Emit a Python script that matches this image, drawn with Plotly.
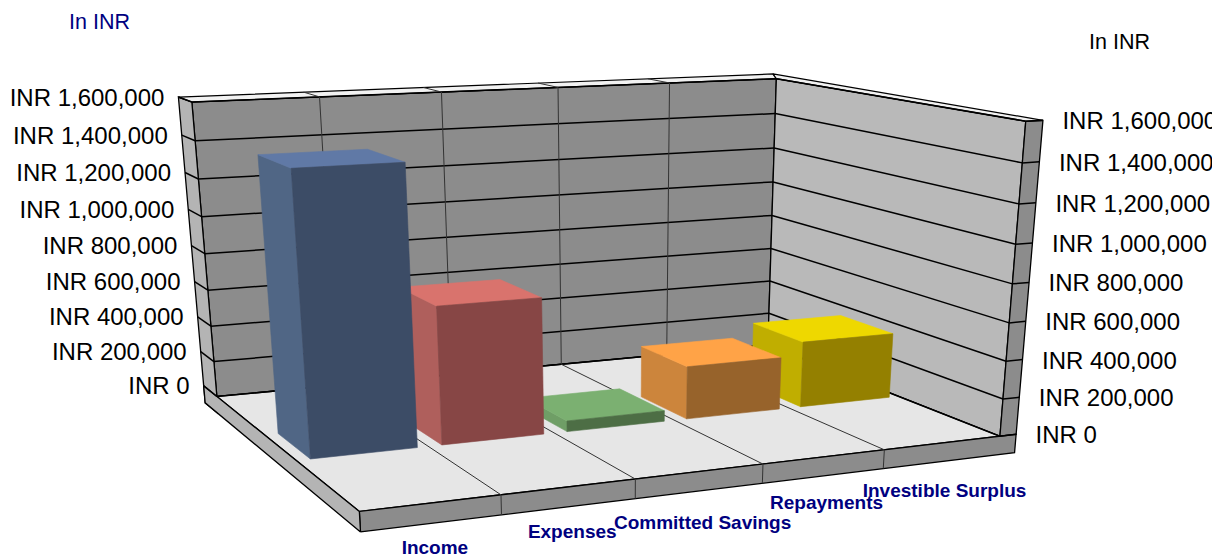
import numpy as np
import plotly.graph_objects as go

# ---- data -----------------------------------------------------------------
categories = ["Income", "Expenses", "Committed Savings", "Repayments", "Investible Surplus"]
values = [1430000, 720000, 58000, 287000, 362000]
tick_values = [0, 200000, 400000, 600000, 800000, 1000000, 1200000, 1400000, 1600000]
tick_labels = ["INR 0", "INR 200,000", "INR 400,000", "INR 600,000", "INR 800,000",
               "INR 1,000,000", "INR 1,200,000", "INR 1,400,000", "INR 1,600,000"]

# ---- style ----------------------------------------------------------------
bar_top = ["#6079a6", "#d9736d", "#7bb071", "#ffa347", "#eed800"]
bar_left = ["#506685", "#af5f5c", "#6f9e66", "#cc853c", "#c0ae00"]
bar_front = ["#3c4c66", "#874645", "#4d6e45", "#97632b", "#948000"]
category_dy = [26, 27, 33, 28, 31]
NAVY = "#000080"
FONT = "Liberation Sans, Arial, sans-serif"

# Excel-style perspective: x = category slot, y = depth, z = value / 1e6
CAMERA = np.array([
    [155.21569521, -94.89640839, -27.67090882, 359.35591566],
    [-3.2177339, -27.95917046, -229.02320527, 511.45014863],
    [0.02710255, 0.21948836, -0.04483668, 1.0],
])
N = len(categories)
ZMAX = max(tick_values) / 1e6
WALL_X, WALL_Y, SLAB = N + 0.144, 1.115, -0.1
TOP_CORNER_X = N + 0.194
BAR_X0, BAR_X1, BAR_Y0, BAR_Y1 = 0.105, 0.915, 0.395, 0.62


def proj(pts):
    h = CAMERA @ np.c_[np.asarray(pts, float), np.ones(len(pts))].T
    return h[0] / h[2], h[1] / h[2]


fig = go.Figure()


def face(pts, color, line=None, width=0.6):
    u, v = proj(pts)
    fig.add_trace(go.Scatter(
        x=list(u) + [u[0]], y=list(v) + [v[0]], mode="lines", fill="toself",
        fillcolor=color, line=dict(color=line or color, width=width),
        hoverinfo="skip", showlegend=False))


def seg(a, b, color="#000000", width=1.5):
    u, v = proj([a, b])
    fig.add_trace(go.Scatter(x=list(u), y=list(v), mode="lines",
                             line=dict(color=color, width=width),
                             hoverinfo="skip", showlegend=False))


EDGE = "#000000"
# walls and floor
face([(0, 1, 0), (N, 1, 0), (N, 1, ZMAX), (0, 1, ZMAX)], "#8c8c8c", EDGE, 1.3)
face([(N, 0, 0), (N, 1, 0), (N, 1, ZMAX), (N, 0, ZMAX)], "#b9b9b9", EDGE, 1.3)
face([(0, 0, 0), (N, 0, 0), (N, 1, 0), (0, 1, 0)], "#e6e6e6", EDGE, 1.3)
face([(0, 1, SLAB), (0, WALL_Y, SLAB), (0, WALL_Y, ZMAX), (0, 1, ZMAX)], "#b4b4b4", EDGE, 1.3)
face([(N, 0, 0), (WALL_X, 0, 0), (WALL_X, 0, ZMAX), (N, 0, ZMAX)], "#8c8c8c", EDGE, 1.3)
face([(0, 1, ZMAX), (N, 1, ZMAX), (TOP_CORNER_X, WALL_Y, ZMAX), (0, WALL_Y, ZMAX)], "#f2f2f2", EDGE, 1.2)
face([(N, 0, ZMAX), (WALL_X, 0, ZMAX), (TOP_CORNER_X, WALL_Y, ZMAX), (N, 1, ZMAX)], "#f2f2f2", EDGE, 1.2)
face([(0, 0, SLAB), (WALL_X, 0, SLAB), (WALL_X, 0, 0), (0, 0, 0)], "#8c8c8c", EDGE, 1.3)
face([(0, 0, SLAB), (0, WALL_Y, SLAB), (0, WALL_Y, 0), (0, 0, 0)], "#b4b4b4", EDGE, 1.3)

# gridlines at each value tick
for tv in tick_values:
    z = tv / 1e6
    seg((0, WALL_Y, z), (0, 1, z))
    seg((0, 1, z), (N, 1, z))
    seg((N, 1, z), (N, 0, z))
    seg((N, 0, z), (WALL_X, 0, z))

# gridlines at each category boundary
for i in range(1, N):
    seg((i, 1, 0), (i, 1, ZMAX), "#333333", 1.0)
    seg((i, 1, ZMAX), (i, WALL_Y, ZMAX), "#333333", 1.0)
    seg((i, 0, 0), (i, 1, 0), "#333333", 1.0)
    seg((i, 0, SLAB), (i, 0, 0), "#333333", 1.0)

# bars, far side first
for i in reversed(range(N)):
    x0, x1, h = i + BAR_X0, i + BAR_X1, values[i] / 1e6
    face([(x0, BAR_Y0, 0), (x0, BAR_Y1, 0), (x0, BAR_Y1, h), (x0, BAR_Y0, h)], bar_left[i])
    face([(x0, BAR_Y0, h), (x1, BAR_Y0, h), (x1, BAR_Y1, h), (x0, BAR_Y1, h)], bar_top[i])
    face([(x0, BAR_Y0, 0), (x1, BAR_Y0, 0), (x1, BAR_Y0, h), (x0, BAR_Y0, h)], bar_front[i])

# value labels on both sides
zs = [t / 1e6 for t in tick_values]
lu, lv = proj([(0, WALL_Y, z) for z in zs])
fig.add_trace(go.Scatter(x=lu - 14, y=lv + 2.5, mode="text", text=tick_labels, textposition="middle left",
                         textfont=dict(family=FONT, size=24, color="#000000"),
                         hoverinfo="skip", showlegend=False))
ru, rv = proj([(WALL_X, 0, z) for z in zs])
fig.add_trace(go.Scatter(x=ru + 19.5, y=rv + 3, mode="text", text=tick_labels, textposition="middle right",
                         textfont=dict(family=FONT, size=24, color="#000000"),
                         hoverinfo="skip", showlegend=False))

# category labels
cu, cv = proj([(i + 0.5, 0, SLAB) for i in range(N)])
fig.add_trace(go.Scatter(x=cu + 3, y=cv + np.array(category_dy), mode="text", text=categories,
                         textposition="middle center",
                         textfont=dict(family=FONT, size=19, color=NAVY, weight="bold"),
                         hoverinfo="skip", showlegend=False))

fig.update_layout(
    width=1217, height=556, margin=dict(l=0, r=0, t=0, b=0),
    paper_bgcolor="white", plot_bgcolor="white", showlegend=False,
    xaxis=dict(range=[0, 1212], domain=[0, 1212 / 1217], visible=False, fixedrange=True),
    yaxis=dict(range=[556, 0], domain=[0, 1], visible=False, fixedrange=True),
    annotations=[
        dict(text="In INR", x=67, y=22, xref="x", yref="y", xanchor="left", yanchor="middle",
             showarrow=False, font=dict(family=FONT, size=21.5, color=NAVY)),
        dict(text="In INR", x=1087, y=42, xref="x", yref="y", xanchor="left", yanchor="middle",
             showarrow=False, font=dict(family=FONT, size=21.5, color="#000000")),
    ],
)
fig.write_html("out.html", config=dict(displayModeBar=False),
               post_script="document.body.style.margin='0';document.documentElement.style.overflow='hidden';")
